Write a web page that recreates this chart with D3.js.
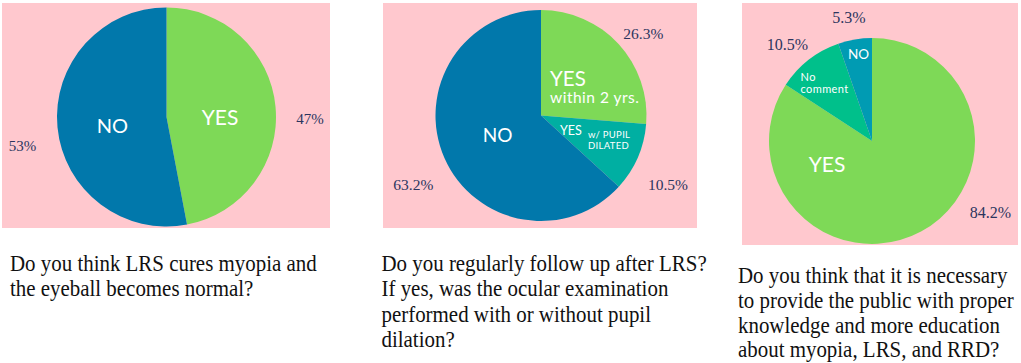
<!DOCTYPE html>
<html>
<head>
<meta charset="utf-8">
<script src="https://cdn.jsdelivr.net/npm/d3@7"></script>
<style>
  body { margin: 0; background: #ffffff; }
  svg { display: block; }
</style>
</head>
<body>
<div id="chart"></div>
<script>
// ---- data ----
const q1Labels = ["YES", "NO"];
const q1Values = [47, 53];

const q2Labels = ["YES within 2 yrs.", "YES w/ pupil dilated", "NO"];
const q2Values = [26.3, 10.5, 63.2];

const q3Labels = ["YES", "No comment", "NO"];
const q3Values = [84.2, 10.5, 5.3];

const q1Caption = ["Do you think LRS cures myopia and", "the eyeball becomes normal?"];
const q2Caption = ["Do you regularly follow up after LRS?", "If yes, was the ocular examination",
                   "performed with or without pupil", "dilation?"];
const q3Caption = ["Do you think that it is necessary", "to provide the public with proper",
                   "knowledge and more education", "about myopia, LRS, and RRD?"];

// ---- layout (positions / styles only) ----
const W = 1021, H = 363;
const PINK = "#ffc8ce";
const PCT_COLOR = "#2b355e";

const panels = [
  {
    labels: q1Labels, values: q1Values, caption: q1Caption,
    colors: ["#7ed957", "#0178ab"],
    box: {x: 2, y: 3, w: 328, h: 225},
    cx: 166.5, cy: 117, r: 109.5,
    pctSize: 15,
    pct: [[143.5, 7], [-144, 33.7]],
    inner: [
      [{t: "YES", dx: 53.5, dy: 8, size: 21, anchor: "middle"}],
      [{t: "NO", dx: -54.2, dy: 15.7, size: 20, anchor: "middle"}]
    ],
    capX: 10, capY: [271, 295.5]
  },
  {
    labels: q2Labels, values: q2Values, caption: q2Caption,
    colors: ["#7ed957", "#00afa2", "#0178ab"],
    box: {x: 383, y: 3, w: 314, h: 225},
    cx: 541, cy: 115.5, r: 105.5,
    pctSize: 15.5,
    pct: [[102.3, -76.2], [127, 74.5], [-127.7, 74.5]],
    inner: [
      [{t: "YES", dx: 9, dy: -29.5, size: 20.5, anchor: "start"},
       {t: "within 2 yrs.", dx: 9, dy: -12.5, size: 15.5, anchor: "start", ls: 0.5}],
      [{t: "YES", dx: 19, dy: 19.5, size: 12.5, anchor: "start"},
       {t: "w/ PUPIL", dx: 47, dy: 22.2, size: 9.5, anchor: "start", ls: 0.3},
       {t: "DILATED", dx: 47, dy: 33.8, size: 9.5, anchor: "start", ls: 0.3}],
      [{t: "NO", dx: -43.5, dy: 26.2, size: 19, anchor: "middle"}]
    ],
    capX: 381.5, capY: [270.7, 296, 321.5, 346.7]
  },
  {
    labels: q3Labels, values: q3Values, caption: q3Caption,
    colors: ["#7ed957", "#00c08b", "#009bb3"],
    box: {x: 742, y: 3, w: 276, h: 242},
    cx: 872, cy: 141, r: 103,
    pctSize: 16,
    pct: [[118.5, 77.3], [-84.5, -91], [-23, -117.7]],
    inner: [
      [{t: "YES", dx: -45, dy: 30.7, size: 21, anchor: "middle"}],
      [{t: "No", dx: -71.5, dy: -60, size: 11, anchor: "start", ls: 0.4},
       {t: "comment", dx: -71.5, dy: -48, size: 11, anchor: "start", ls: 0.4}],
      [{t: "NO", dx: -13.5, dy: -81.7, size: 13.5, anchor: "middle"}]
    ],
    capX: 738, capY: [283, 308, 333, 357]
  }
];

const svg = d3.select("#chart").append("svg")
  .attr("width", W)
  .attr("height", H);

const pie = d3.pie().sort(null).value(d => d);

panels.forEach(p => {
  const g = svg.append("g");

  // pink background box
  g.append("rect")
    .attr("x", p.box.x).attr("y", p.box.y)
    .attr("width", p.box.w).attr("height", p.box.h)
    .style("fill", PINK);

  const arcs = pie(p.values);
  const arc = d3.arc().innerRadius(0).outerRadius(p.r);
  const color = d3.scaleOrdinal().domain(p.labels).range(p.colors);

  const pg = g.append("g").attr("transform", `translate(${p.cx},${p.cy})`);

  pg.selectAll("path.slice")
    .data(arcs)
    .enter()
    .append("path")
      .attr("class", "slice")
      .attr("d", arc)
      .style("fill", (d, i) => color(p.labels[i]));

  // percentage labels outside the pie
  pg.selectAll("text.pct")
    .data(arcs)
    .enter()
    .append("text")
      .attr("class", "pct")
      .attr("x", (d, i) => p.pct[i][0])
      .attr("y", (d, i) => p.pct[i][1])
      .attr("text-anchor", "middle")
      .style("font-family", "'Liberation Serif', 'Times New Roman', serif")
      .style("font-size", p.pctSize + "px")
      .style("fill", PCT_COLOR)
      .text(d => d.value + "%");

  // white category labels inside slices
  p.inner.forEach(parts => {
    parts.forEach(s => {
      pg.append("text")
        .attr("x", s.dx)
        .attr("y", s.dy)
        .attr("text-anchor", s.anchor)
        .style("font-family", "Lato, 'Open Sans', sans-serif")
        .style("font-size", s.size + "px")
        .style("letter-spacing", (s.ls || 0) + "px")
        .style("fill", "#ffffff")
        .text(s.t);
    });
  });

  // question text under each pie
  p.caption.forEach((line, i) => {
    g.append("text")
      .attr("transform", `translate(${p.capX},${p.capY[i]}) scale(0.91,1)`)
      .style("font-family", "'Liberation Serif', 'Times New Roman', serif")
      .style("font-size", "23px")
      .style("fill", "#111111")
      .text(line);
  });
});
</script>
</body>
</html>
